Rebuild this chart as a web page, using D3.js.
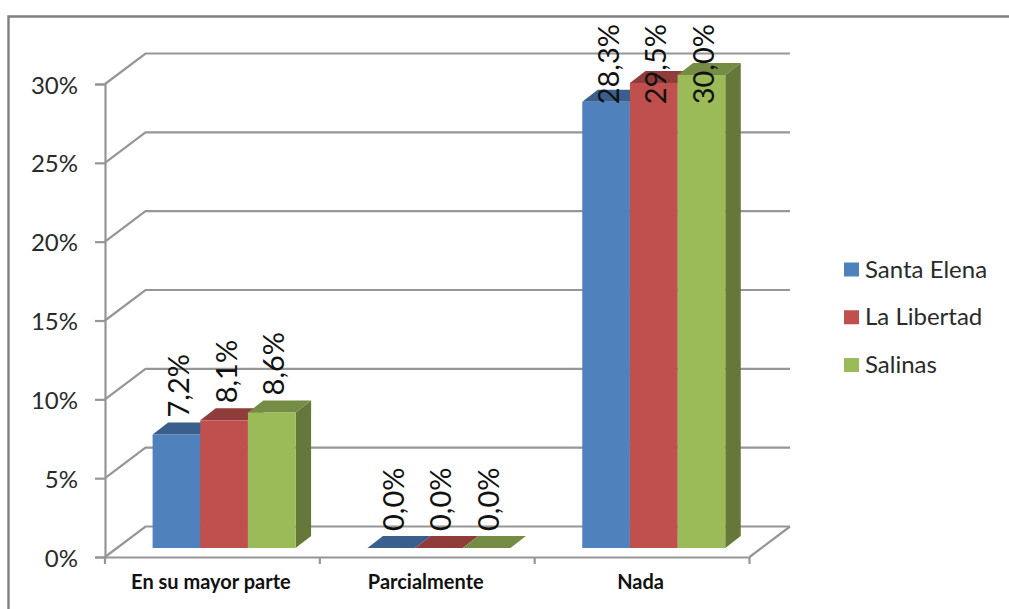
<!DOCTYPE html>
<html><head><meta charset="utf-8">
<script src="https://cdn.jsdelivr.net/npm/d3@7/dist/d3.min.js"></script>
<style>html,body{margin:0;padding:0;background:#fff}svg{display:block}</style>
</head><body><svg id="c" width="1009" height="609"></svg>
<script>
const categories = ["En su mayor parte", "Parcialmente", "Nada"];
const seriesNames = ["Santa Elena", "La Libertad", "Salinas"];
const santaElena = [7.2, 0, 28.3];
const laLibertad = [8.1, 0, 29.5];
const salinas = [8.6, 0, 30.0];
const valueLabels = [["7,2%","0,0%","28,3%"],["8,1%","0,0%","29,5%"],["8,6%","0,0%","30,0%"]];
const tickValues = [0,5,10,15,20,25,30];
const frontCol = ["#4f81bd","#c0504d","#9bbb59"];
const topCol = ["#3b5f8c","#8f3c3a","#748c43"];
const sideCol = ["#2f4c70","#733030","#65783a"];
const seriesVals = [santaElena, laLibertad, salinas];

const svg = d3.select("#c");
const grey = "#969696";
const font = "Lato,'Open Sans',sans-serif";
const y = d3.scaleLinear().domain([0,30]).range([557,84]);
const x = d3.scaleBand().domain(categories).range([105,749.5]);
const inner = d3.scaleBand().domain(d3.range(3)).range([0,143]);
const barStart = c => x(c) + 47.6;
const dx = 40.5, dy = -30.5;
const bx = 15.5, by = -12;
const baseShift = -9;

svg.append("path").attr("d","M8.5,609V16.5H1009").attr("fill","none").attr("stroke","#808080").attr("stroke-width",2.4);

const g = svg.append("g").attr("fill","none").attr("stroke",grey).attr("stroke-width",2.2);
tickValues.forEach(t=>{
  g.append("path").attr("d",`M${x.range()[0]},${y(t)}L${x.range()[0]+dx},${y(t)+dy}H${x.range()[1]+dx}`);
});
g.append("path").attr("d",`M${x.range()[1]+dx},${y(0)+dy}L${x.range()[1]},${y(0)}`);

const axisL = d3.axisLeft(y).tickValues(tickValues).tickSize(10).tickPadding(16).tickFormat(d=>d+"%");
const axL = svg.append("g").attr("transform","translate(105,0)").call(axisL);
axL.select(".domain").attr("stroke",grey).attr("stroke-width",2.2);
axL.selectAll("line").attr("stroke",grey).attr("stroke-width",2.2);
axL.selectAll("text").attr("font-family",font).attr("font-size",24).attr("fill","#2a2a2a").attr("dx",-1).attr("dy","0.38em");

const axisB = d3.axisBottom(x).tickSize(0).tickPadding(18);
const axB = svg.append("g").attr("transform",`translate(0,${y(0)})`).call(axisB);
axB.select(".domain").attr("stroke",grey).attr("stroke-width",2.2);
axB.selectAll("line").remove();
axB.selectAll("text").attr("font-family",font).attr("font-weight",700).attr("font-size",20).attr("fill","#111").attr("dx",-1.5);
const edge = d3.range(4).map(i=> x.range()[0] + i*x.step());
svg.append("g").selectAll("line").data(edge).join("line")
  .attr("x1",d=>d).attr("x2",d=>d).attr("y1",y(0)).attr("y2",y(0)+7)
  .attr("stroke",grey).attr("stroke-width",2.2);

const bars = svg.append("g");
const base = y(0)+baseShift;
categories.forEach((c,ci)=>{
  seriesVals.forEach((vals,si)=>{
    const x0 = barStart(c)+inner(si), x1 = x0+inner.bandwidth();
    const h = y(0)-y(vals[ci]), t = base-h;
    bars.append("path").attr("d",`M${x1},${t}L${x1+bx},${t+by}V${base+by}L${x1},${base}Z`).attr("fill",sideCol[si]);
    bars.append("path").attr("d",`M${x0},${t}L${x0+bx},${t+by}H${x1+bx}L${x1},${t}Z`).attr("fill",topCol[si]);
    bars.append("rect").attr("x",x0).attr("y",t).attr("width",inner.bandwidth()).attr("height",h).attr("fill",frontCol[si]);
  });
});

const labelTopLimit = 24;
const labs = svg.append("g");
categories.forEach((c,ci)=>{
  seriesVals.forEach((vals,si)=>{
    const cx = barStart(c)+inner(si)+inner.bandwidth()/2;
    const h = y(0)-y(vals[ci]);
    const txt = labs.append("text").text(valueLabels[si][ci])
      .attr("font-family",font).attr("font-size",29).attr("fill","#111");
    const len = txt.node().getComputedTextLength();
    const bottom = Math.max(base-h-17, labelTopLimit+len);
    txt.attr("transform",`translate(${cx+12.5},${bottom}) rotate(-90)`);
  });
});

const leg = svg.append("g");
const legY = d3.scalePoint().domain(seriesNames).range([269.5,365]);
seriesNames.forEach((n,i)=>{
  leg.append("rect").attr("x",844).attr("y",legY(n)-7).attr("width",15).attr("height",14).attr("fill",frontCol[i]);
  leg.append("text").text(n).attr("x",865).attr("y",legY(n)+8)
    .attr("font-family",font).attr("font-size",24).attr("fill","#2a2a2a");
});
</script></body></html>
